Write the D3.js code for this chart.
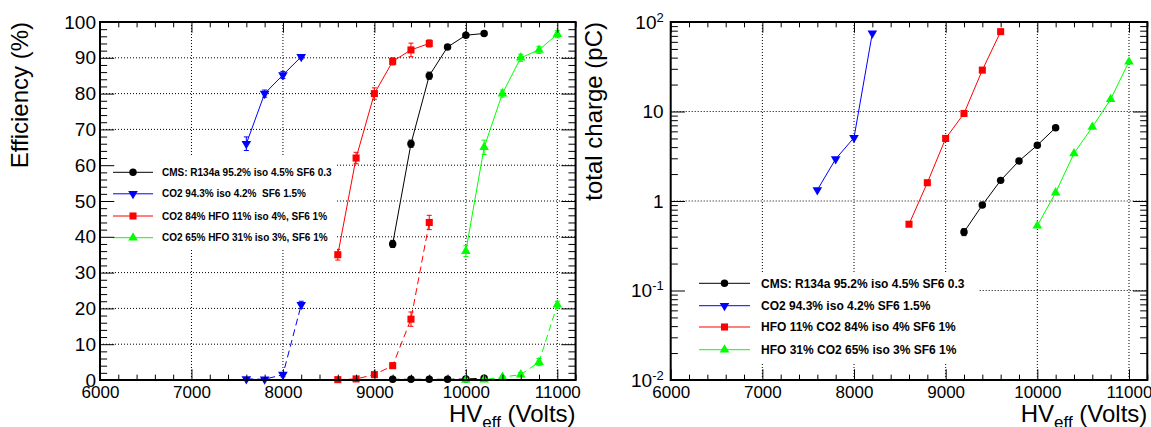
<!DOCTYPE html>
<html>
<head>
<meta charset="utf-8">
<script src="https://cdn.jsdelivr.net/npm/d3@7"></script>
<style>
  body { margin: 0; background: #fff; }
  svg { display: block; font-family: "Liberation Sans", Arial, Helvetica, sans-serif; }
</style>
</head>
<body>
<svg id="chart" width="1151" height="427"></svg>
<script>
'use strict';

// HV_eff points (Volts) for each mixture
const hvCMS = [9200, 9400, 9600, 9800, 10000, 10200];
const hvCO2 = [7600, 7800, 8000, 8200];
const hvHFO11 = [8600, 8800, 9000, 9200, 9400, 9600];
const hvHFO31 = [10000, 10200, 10400, 10600, 10800, 11000];

// efficiency (%) - solid curves
const effCMS = [38, 66, 85, 93, 96.3, 96.8];
const effCO2 = [66, 80, 85.2, 90.3];
const effHFO11 = [35, 62, 80, 89, 92.2, 94];
const effHFO31 = [36, 65, 80, 90, 92.2, 96.6];
const effErrCMS = [1, 1, 1, 0.6, 0.5, 0.5];
const effErrCO2 = [1.9, 1, 1, 0.6];
const effErrHFO11 = [1.5, 1.6, 1.6, 1, 1.9, 1];
const effErrHFO31 = [1.5, 2, 1, 1, 1, 1];

// streamer probability (%) - dashed curves
const strCMS = [0.2, 0.2, 0.2, 0.2, 0.3, 0.5];
const strCO2 = [0.3, 0.2, 1.5, 21];
const strHFO11 = [0.1, 0.3, 1.5, 4, 17, 44];
const strHFO31 = [0, 0.1, 0.8, 1.5, 5, 21];
const strErrCMS = [0.1, 0.1, 0.1, 0.1, 0.1, 0.2];
const strErrCO2 = [0.2, 0.2, 0.6, 1];
const strErrHFO11 = [0.1, 0.2, 0.6, 0.8, 2, 2];
const strErrHFO31 = [0, 0.1, 0.4, 0.6, 1, 1];

// total charge (pC)
const chargeCMS = [0.45, 0.9, 1.7, 2.8, 4.2, 6.6];
const chargeCO2 = [1.33, 2.95, 5.1, 75];
const chargeHFO11 = [0.55, 1.6, 5.0, 9.5, 29, 78];
const chargeHFO31 = [0.53, 1.24, 3.4, 6.7, 13.7, 36];
const chargeErrCMS = [0.04, 0.05, 0.06, 0.08, 0.1, 0.15];

const effLegend = ["CMS: R134a 95.2% iso 4.5% SF6 0.3", "CO2 94.3% iso 4.2%\u00a0 SF6 1.5%",
  "CO2 84% HFO 11% iso 4%, SF6 1%", "CO2 65% HFO 31% iso 3%, SF6 1%"];
const chargeLegend = ["CMS: R134a 95.2% iso 4.5% SF6 0.3", "CO2 94.3% iso 4.2% SF6 1.5%",
  "HFO 11% CO2 84% iso 4% SF6 1%", "HFO 31% CO2 65% iso 3% SF6 1%"];

const colors = ["#000000", "#0000ff", "#ff0000", "#00ff00"];
const markers = ["circle", "tridown", "square", "triup"];

const svg = d3.select("#chart");
svg.append("rect").attr("width", 1151).attr("height", 427).attr("fill", "#fff");

function pts(xs, ys, es) {
  return xs.map(function (d, i) { return {x: d, y: ys[i], e: es ? es[i] : 0}; });
}

const effSeries = [
  {c: 0, solid: pts(hvCMS, effCMS, effErrCMS), dash: pts(hvCMS, strCMS, strErrCMS)},
  {c: 1, solid: pts(hvCO2, effCO2, effErrCO2), dash: pts(hvCO2, strCO2, strErrCO2)},
  {c: 2, solid: pts(hvHFO11, effHFO11, effErrHFO11), dash: pts(hvHFO11, strHFO11, strErrHFO11)},
  {c: 3, solid: pts(hvHFO31, effHFO31, effErrHFO31), dash: pts(hvHFO31, strHFO31, strErrHFO31)}
];
const chargeSeries = [
  {c: 0, solid: pts(hvCMS, chargeCMS, chargeErrCMS)},
  {c: 1, solid: pts(hvCO2, chargeCO2)},
  {c: 2, solid: pts(hvHFO11, chargeHFO11)},
  {c: 3, solid: pts(hvHFO31, chargeHFO31)}
];

function symbolPath(kind) {
  if (kind == "circle") return d3.symbol(d3.symbolCircle, 44)();
  if (kind == "square") return d3.symbol(d3.symbolSquare, 50)();
  return d3.symbol(d3.symbolTriangle, 40)();
}

function drawMarker(sel, kind, color) {
  return sel.append("path")
    .attr("d", symbolPath(kind))
    .attr("fill", color)
    .attr("transform", function (d) {
      return kind == "tridown" ? this.getAttribute("transform") + " rotate(180)" : this.getAttribute("transform");
    });
}

function drawCurve(g, x, y, data, color, kind, dashed) {
  const line = d3.line().x(function (d) { return x(d.x); }).y(function (d) { return y(Math.max(d.y, 1e-3)); });
  g.append("path")
    .datum(data)
    .attr("d", line)
    .attr("fill", "none")
    .attr("stroke", color)
    .attr("stroke-width", 1)
    .attr("stroke-dasharray", dashed ? "7,4" : null);
  // error bars
  const eb = g.append("g").attr("stroke", color).attr("stroke-width", 1);
  data.filter(function (d) { return d.e > 0; }).forEach(function (d) {
    const x0 = x(d.x), ya = y(d.y - d.e), yb = y(d.y + d.e);
    eb.append("line").attr("x1", x0).attr("x2", x0).attr("y1", ya).attr("y2", yb);
    eb.append("line").attr("x1", x0 - 2.5).attr("x2", x0 + 2.5).attr("y1", ya).attr("y2", ya);
    eb.append("line").attr("x1", x0 - 2.5).attr("x2", x0 + 2.5).attr("y1", yb).attr("y2", yb);
  });
  g.selectAll(null)
    .data(data)
    .enter().append("path")
    .attr("d", symbolPath(kind))
    .attr("fill", color)
    .attr("transform", function (d) {
      return "translate(" + x(d.x) + "," + y(Math.max(d.y, 1e-3)) + ")" + (kind == "tridown" ? " rotate(180)" : "");
    });
}

function drawPanel(cfg) {
  const x = d3.scaleLinear().domain([6000, 11200]).range([cfg.left, cfg.right]);
  const y = cfg.log
    ? d3.scaleLog().domain([0.01, 100]).range([cfg.bottom, cfg.top])
    : d3.scaleLinear().domain([0, 100]).range([cfg.bottom, cfg.top]);
  const g = svg.append("g");

  const xMajor = d3.range(6000, 11001, 1000);
  const xMinor = d3.range(6000, 11201, 200).filter(function (v) { return v % 1000 != 0; });
  let yMajor, yMinor;
  if (cfg.log) {
    yMajor = [0.01, 0.1, 1, 10, 100];
    yMinor = [];
    [0.01, 0.1, 1, 10].forEach(function (dec) {
      for (let k = 2; k <= 9; k++) yMinor.push(k * dec);
    });
  } else {
    yMajor = d3.range(0, 101, 10);
    yMinor = d3.range(0, 101, 2).filter(function (v) { return v % 10 != 0; });
  }

  // dotted grid
  const grid = g.append("g").attr("stroke", "#000").attr("stroke-width", 1).attr("stroke-dasharray", "1,2");
  xMajor.filter(function (v) { return v > 6000; }).forEach(function (v) {
    grid.append("line").attr("x1", x(v)).attr("x2", x(v)).attr("y1", cfg.top).attr("y2", cfg.bottom);
  });
  yMajor.filter(function (v) { return y(v) > cfg.top + 1 && y(v) < cfg.bottom - 1; }).forEach(function (v) {
    grid.append("line").attr("x1", cfg.left).attr("x2", cfg.right).attr("y1", y(v)).attr("y2", y(v));
  });

  // curves
  cfg.series.forEach(function (s) {
    if (s.dash) drawCurve(g, x, y, s.dash, colors[s.c], markers[s.c], true);
  });
  cfg.series.forEach(function (s) {
    drawCurve(g, x, y, s.solid, colors[s.c], markers[s.c], false);
  });

  // legend
  const lg = cfg.legend;
  g.append("rect")
    .attr("x", lg.x).attr("y", lg.y).attr("width", lg.w).attr("height", lg.h)
    .attr("fill", "#fff");
  const rows = g.selectAll(".leg")
    .data(lg.labels)
    .enter().append("g")
    .attr("class", "leg")
    .attr("transform", function (d, i) { return "translate(0," + lg.rows[i] + ")"; });
  rows.append("line")
    .attr("x1", lg.lineX[0]).attr("x2", lg.lineX[1])
    .attr("stroke", function (d, i) { return colors[i]; })
    .attr("stroke-width", 1);
  rows.append("path")
    .attr("d", function (d, i) { return symbolPath(markers[i]); })
    .attr("fill", function (d, i) { return colors[i]; })
    .attr("transform", function (d, i) {
      return "translate(" + (lg.lineX[0] + lg.lineX[1]) / 2 + ",0)" + (markers[i] == "tridown" ? " rotate(180)" : "");
    });
  rows.append("text")
    .attr("x", lg.textX)
    .attr("dy", "0.36em")
    .attr("font-size", lg.fontSize)
    .attr("font-weight", "bold")
    .text(function (d) { return d; });

  // axes with inward ticks
  const tickX = 0.03 * (cfg.bottom - cfg.top);
  const tickY = 0.03 * (cfg.right - cfg.left);
  function clean(a) { a.select(".domain").remove(); a.selectAll("line").attr("stroke", "#000"); }

  g.append("g").attr("transform", "translate(0," + cfg.bottom + ")")
    .call(d3.axisBottom(x).tickValues(xMajor).tickSize(-tickX).tickPadding(6).tickFormat(d3.format("d")))
    .call(clean)
    .call(function (a) { a.selectAll("text").attr("font-size", 17).attr("fill", "#000").attr("font-family", null); });
  g.append("g").attr("transform", "translate(0," + cfg.bottom + ")")
    .call(d3.axisBottom(x).tickValues(xMinor).tickSize(-tickX / 2).tickFormat(""))
    .call(clean);
  g.append("g").attr("transform", "translate(0," + cfg.top + ")")
    .call(d3.axisTop(x).tickValues(xMajor).tickSize(-tickX).tickFormat(""))
    .call(clean);
  g.append("g").attr("transform", "translate(0," + cfg.top + ")")
    .call(d3.axisTop(x).tickValues(xMinor).tickSize(-tickX / 2).tickFormat(""))
    .call(clean);

  const leftAxis = d3.axisLeft(y).tickValues(yMajor).tickSize(-tickY).tickPadding(4);
  if (cfg.log) leftAxis.tickFormat("");
  else leftAxis.tickFormat(d3.format("d"));
  g.append("g").attr("transform", "translate(" + cfg.left + ",0)")
    .call(leftAxis)
    .call(clean)
    .call(function (a) { a.selectAll("text").attr("font-size", 19).attr("fill", "#000").attr("font-family", null); });
  g.append("g").attr("transform", "translate(" + cfg.left + ",0)")
    .call(d3.axisLeft(y).tickValues(yMinor).tickSize(-tickY / 2).tickFormat(""))
    .call(clean);
  g.append("g").attr("transform", "translate(" + cfg.right + ",0)")
    .call(d3.axisRight(y).tickValues(yMajor).tickSize(-tickY).tickFormat(""))
    .call(clean);
  g.append("g").attr("transform", "translate(" + cfg.right + ",0)")
    .call(d3.axisRight(y).tickValues(yMinor).tickSize(-tickY / 2).tickFormat(""))
    .call(clean);

  // log labels: 10^n
  if (cfg.log) {
    const lab = g.append("g").attr("font-size", 19).attr("text-anchor", "end");
    yMajor.forEach(function (v) {
      const p = Math.round(Math.log10(v));
      const t = lab.append("text").attr("x", cfg.left - 7).attr("y", y(v)).attr("dy", "0.36em");
      if (p == 0) t.text("1");
      else if (p == 1) t.text("10");
      else {
        t.append("tspan").text("10");
        t.append("tspan").attr("font-size", 13).attr("dy", "-0.55em").text(p);
      }
    });
  }

  // frame
  g.append("rect")
    .attr("x", cfg.left).attr("y", cfg.top)
    .attr("width", cfg.right - cfg.left).attr("height", cfg.bottom - cfg.top)
    .attr("fill", "none").attr("stroke", "#000").attr("stroke-width", 2);

  // axis titles
  g.append("text")
    .attr("transform", "translate(" + cfg.ylabelX + "," + cfg.top + ") rotate(-90)")
    .attr("text-anchor", "end")
    .attr("font-size", 24)
    .text(cfg.ylabel);
  const xt = g.append("text")
    .attr("x", cfg.right).attr("y", 422)
    .attr("text-anchor", "end")
    .attr("font-size", 24);
  xt.append("tspan").text("HV");
  xt.append("tspan").attr("font-size", 17).attr("dy", 6).text("eff");
  xt.append("tspan").attr("dy", -6).text(" (Volts)");
}

drawPanel({
  left: 100, right: 575.6, top: 22, bottom: 380, log: false,
  series: effSeries, ylabel: "Efficiency (%)", ylabelX: 28,
  legend: {x: 102, y: 157, w: 235, h: 93, rows: [172.3, 193.8, 216, 237.7],
    lineX: [113, 153], textX: 162, fontSize: 10, labels: effLegend}
});

drawPanel({
  left: 670.7, right: 1147.3, top: 22, bottom: 380, log: true,
  series: chargeSeries, ylabel: "total charge (pC)", ylabelX: 602,
  legend: {x: 672, y: 272, w: 307, h: 91, rows: [283.3, 305.7, 327, 349.7],
    lineX: [699, 750], textX: 761, fontSize: 12, labels: chargeLegend}
});
</script>
</body>
</html>
